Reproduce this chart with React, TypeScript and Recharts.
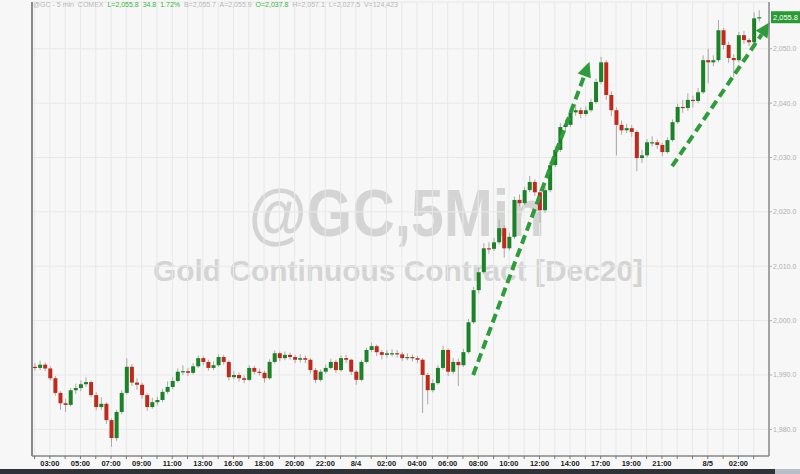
import React from "react";
import { ComposedChart, Bar, XAxis, YAxis, CartesianGrid, ReferenceLine } from "recharts";

const firstOpen = 1991.5;
const closes = [
	1991.3, 1991.9, 1991.2, 1989.4, 1986.7, 1984.8, 1984.5, 1987.2, 1987.6, 1988.3,
	1988.7, 1986.3, 1984.1, 1984.7, 1981.7, 1978.4, 1983.2, 1986.7, 1991.5, 1988.6,
	1988.2, 1986.3, 1984.1, 1985.0, 1985.4, 1986.9, 1987.8, 1988.9, 1990.6, 1990.7,
	1990.4, 1991.6, 1993.1, 1992.4, 1991.3, 1991.8, 1993.3, 1992.4, 1989.6, 1990.0,
	1989.4, 1989.1, 1991.3, 1990.6, 1990.4, 1989.4, 1992.4, 1994.0, 1993.1, 1993.7,
	1993.3, 1992.8, 1993.1, 1992.8, 1990.9, 1989.1, 1990.6, 1991.3, 1992.4, 1990.9,
	1993.1, 1992.8, 1990.6, 1989.1, 1992.4, 1994.6, 1995.3, 1994.2, 1993.7, 1994.0,
	1994.0, 1993.8, 1993.1, 1993.3, 1993.1, 1992.8, 1990.0, 1987.2, 1988.5, 1991.3,
	1994.6, 1990.6, 1992.4, 1991.8, 1994.2, 1999.7, 2005.6, 2008.9, 2013.3, 2013.2,
	2014.4, 2017.0, 2013.3, 2015.4, 2022.2, 2021.6, 2024.0, 2025.5, 2023.6, 2020.3,
	2024.0, 2028.6, 2031.4, 2035.6, 2036.0, 2038.3, 2038.7, 2038.0, 2038.7, 2040.2,
	2043.9, 2047.5, 2041.5, 2038.7, 2036.0, 2035.0, 2035.4, 2034.7, 2029.9, 2030.4,
	2032.8, 2032.8, 2032.3, 2031.0, 2033.2, 2036.5, 2039.3, 2039.1, 2040.6, 2040.4,
	2042.0, 2047.9, 2047.5, 2047.9, 2053.4, 2050.7, 2048.3, 2047.9, 2052.5, 2051.6,
	2051.2, 2055.6, 2055.8,
];
const highs = [
	1992.2, 1992.6, 1992.3, 1991.6, 1989.8, 1987.0, 1985.6, 1987.6, 1988.4, 1989.0,
	1989.6, 1989.0, 1986.8, 1985.9, 1985.0, 1982.0, 1983.6, 1987.2, 1993.1, 1992.0,
	1989.4, 1988.6, 1986.6, 1985.8, 1986.0, 1987.4, 1988.8, 1989.6, 1991.2, 1991.8,
	1991.3, 1992.2, 1993.6, 1993.5, 1992.8, 1992.5, 1993.8, 1993.7, 1992.7, 1990.7,
	1990.5, 1989.9, 1991.8, 1991.7, 1991.2, 1990.8, 1992.9, 1994.5, 1994.3, 1994.3,
	1994.1, 1993.7, 1993.8, 1993.6, 1993.1, 1991.3, 1991.0, 1991.9, 1993.0, 1992.8,
	1993.6, 1993.7, 1993.0, 1990.9, 1992.8, 1995.0, 1995.9, 1995.6, 1994.6, 1994.6,
	1994.7, 1994.6, 1994.2, 1994.0, 1993.8, 1993.5, 1993.1, 1990.4, 1989.2, 1991.8,
	1995.4, 1994.9, 1993.1, 1993.0, 1994.8, 2000.3, 2006.2, 2009.8, 2014.2, 2014.4,
	2015.2, 2018.6, 2017.5, 2016.2, 2022.8, 2023.2, 2024.6, 2026.6, 2026.0, 2024.0,
	2024.6, 2029.3, 2032.1, 2036.3, 2037.0, 2039.0, 2039.8, 2039.2, 2039.4, 2040.8,
	2044.5, 2048.5, 2047.9, 2042.2, 2039.2, 2036.8, 2036.2, 2036.0, 2035.0, 2031.4,
	2033.4, 2033.9, 2033.3, 2032.7, 2033.7, 2037.0, 2039.9, 2040.6, 2041.8, 2041.4,
	2042.8, 2048.8, 2050.0, 2048.8, 2055.3, 2053.8, 2051.3, 2049.0, 2053.1, 2053.3,
	2052.0, 2056.7, 2057.1,
];
const lows = [
	1990.8, 1990.9, 1990.7, 1989.0, 1986.2, 1983.6, 1983.2, 1984.2, 1986.5, 1987.0,
	1987.8, 1985.9, 1983.5, 1983.6, 1981.0, 1976.8, 1977.9, 1982.8, 1986.4, 1988.0,
	1987.3, 1985.6, 1983.4, 1983.8, 1984.4, 1985.0, 1986.5, 1987.4, 1988.6, 1990.0,
	1989.8, 1990.1, 1991.3, 1991.8, 1990.8, 1990.9, 1991.5, 1991.9, 1989.0, 1989.2,
	1988.8, 1988.5, 1988.9, 1990.1, 1989.9, 1988.6, 1989.1, 1992.1, 1992.5, 1992.7,
	1992.8, 1992.2, 1992.3, 1992.2, 1990.3, 1988.5, 1988.8, 1990.2, 1991.0, 1990.4,
	1990.6, 1992.2, 1990.0, 1988.2, 1988.8, 1992.1, 1994.2, 1993.5, 1992.9, 1993.2,
	1993.4, 1993.2, 1992.6, 1992.7, 1992.5, 1992.2, 1983.0, 1984.6, 1986.8, 1988.2,
	1991.0, 1989.8, 1990.2, 1988.0, 1991.5, 1993.9, 1999.4, 2005.0, 2008.5, 2012.3,
	2012.8, 2014.0, 2011.6, 2012.9, 2015.0, 2021.0, 2021.2, 2023.6, 2022.9, 2018.0,
	2019.8, 2023.6, 2028.2, 2031.0, 2034.8, 2035.6, 2037.7, 2037.2, 2037.6, 2038.4,
	2039.9, 2043.5, 2040.6, 2037.6, 2030.4, 2034.2, 2034.5, 2033.8, 2027.5, 2029.0,
	2030.0, 2032.0, 2031.6, 2030.2, 2030.7, 2032.9, 2036.2, 2038.2, 2038.6, 2039.2,
	2040.0, 2041.7, 2043.7, 2046.8, 2047.5, 2049.9, 2047.4, 2044.8, 2047.5, 2050.9,
	2050.5, 2050.9, 2055.0,
];

// x-axis labels (candle index -> text)
const tickIdx = [3, 9, 15, 21, 27, 33, 39, 45, 51, 57, 63, 69, 75, 81, 87, 93, 99, 105, 111, 117, 123, 132, 138];
const tickText = ["03:00", "05:00", "07:00", "09:00", "11:00", "13:00", "16:00", "18:00", "20:00", "22:00", "8/4", "02:00", "04:00", "06:00", "08:00", "10:00", "12:00", "14:00", "17:00", "19:00", "21:00", "8/5", "02:00"];
const hourTicks = Array.from({ length: 48 }, (_, k) => k * 3);
const priceTicks = [1980, 1990, 2000, 2010, 2020, 2030, 2040, 2050];

// the two drawn arrows: [tailIdx, tailPrice, tipIdx, tipPrice]
const arrowA = [86, 1990.0, 108.8, 2047.6];
const arrowB = [125, 2028.4, 144.2, 2054.9];

const data = closes.map((c, i) => ({
	i,
	open: i === 0 ? firstOpen : closes[i - 1],
	close: c,
	high: highs[i],
	low: lows[i],
	range: [lows[i], highs[i]],
}));

const GREEN = "#1c8228";
const RED = "#c02a1c";
const FONT = "Liberation Sans, Arial, sans-serif";

function Candle(props: any) {
	const { x, y, width, height, payload } = props;
	const { open, close, high, low } = payload;
	const top = Math.min(y, y + height);
	const h = Math.abs(height);
	const k = h / (high - low);
	const yOf = (v: number) => top + (high - v) * k;
	const up = close >= open;
	const bTop = yOf(Math.max(open, close));
	const bBot = yOf(Math.min(open, close));
	const cx = x + width / 2;
	return (
		<g>
			<line x1={cx} x2={cx} y1={top} y2={top + h} stroke="#a9a9a9" strokeWidth={1} />
			<rect x={x} y={bTop} width={width} height={Math.max(1.2, bBot - bTop)} fill={up ? GREEN : RED} />
		</g>
	);
}

function Arrow(props: any) {
	const { x1, y1, x2, y2 } = props;
	const dx = x2 - x1;
	const dy = y2 - y1;
	const len = Math.sqrt(dx * dx + dy * dy);
	const ux = dx / len;
	const uy = dy / len;
	const head = 15;
	const bx = x2 - ux * head;
	const by = y2 - uy * head;
	const px = -uy * 7;
	const py = ux * 7;
	return (
		<g>
			<line x1={x1} y1={y1} x2={bx} y2={by} stroke="#2e9c3a" strokeWidth={4} strokeDasharray="9 5" />
			<polygon points={`${x2},${y2} ${bx + px},${by + py} ${bx - px},${by - py}`} fill="#2e9c3a" />
		</g>
	);
}

function XTick(props: any) {
	const { x, y, payload } = props;
	const k = tickIdx.indexOf(payload.value);
	if (k < 0) return <g />;
	return (
		<text x={x} y={y + 6} textAnchor="middle" fontSize={7.5} fontWeight="bold" fill="#222" fontFamily={FONT}>
			{tickText[k]}
		</text>
	);
}

function PriceTag(props: any) {
	const vb = props.viewBox || {};
	const last = closes[closes.length - 1];
	const x = vb.x + vb.width + 2;
	const y = vb.y;
	return (
		<g>
			<rect x={x} y={y - 6} width={29} height={12} fill="#2a9a34" />
			<text x={x + 14.5} y={y + 3} textAnchor="middle" fontSize={7.5} fill="#fff" fontFamily={FONT}>
				{last.toLocaleString("en-US", { minimumFractionDigits: 1 })}
			</text>
		</g>
	);
}

export default function App() {
	return (
		<div style={{ position: "fixed", left: 0, top: 0, width: 800, height: 474, background: "#f7f7f7", overflow: "hidden" }}>
			<svg width={800} height={474} style={{ position: "absolute", left: 0, top: 0 }}>
				<text x={397} y={236} textAnchor="middle" fontSize={66} fontWeight="bold" fill="#d4d4d4" fontFamily={FONT} textLength={296} lengthAdjust="spacingAndGlyphs">
					@GC,5Min
				</text>
				<text x={398} y={281} textAnchor="middle" fontSize={29} fontWeight="bold" fill="#d4d4d4" fontFamily={FONT} textLength={490} lengthAdjust="spacingAndGlyphs">
					Gold Continuous Contract [Dec20]
				</text>
			</svg>
			<div style={{ position: "absolute", left: 0, top: 0 }}>
				<ComposedChart width={800} height={474} data={data} margin={{ top: 2, right: 0, bottom: 0, left: 32 }}>
					<CartesianGrid stroke="#e8e8e8" strokeWidth={1} />
					<XAxis
						dataKey="i"
						type="number"
						domain={[-0.5, 144]}
						allowDataOverflow
						ticks={hourTicks}
						interval={0}
						height={18}
						tick={<XTick />}
						tickSize={3}
						tickMargin={1}
						tickLine={{ stroke: "#777" }}
						axisLine={{ stroke: "#8a8a8a", strokeWidth: 1.5 }}
					/>
					<YAxis
						orientation="right"
						domain={[1975.1, 2058.6]}
						allowDataOverflow
						ticks={priceTicks}
						width={31}
						tickSize={3}
						tickMargin={1}
						tickLine={{ stroke: "#aaa" }}
						axisLine={{ stroke: "#8a8a8a", strokeWidth: 1.5 }}
						tick={{ fontSize: 7, fill: "#b0b0b0", fontFamily: FONT }}
						tickFormatter={(v: number) => v.toLocaleString("en-US", { minimumFractionDigits: 1 })}
					/>
					<ReferenceLine x={-0.5} stroke="#8a8a8a" strokeWidth={2} />
					<Bar dataKey="range" barSize={4} shape={<Candle />} isAnimationActive={false} />
					<ReferenceLine
						segment={[{ x: arrowA[0], y: arrowA[1] }, { x: arrowA[2], y: arrowA[3] }]}
						ifOverflow="visible"
						shape={<Arrow />}
					/>
					<ReferenceLine
						segment={[{ x: arrowB[0], y: arrowB[1] }, { x: arrowB[2], y: arrowB[3] }]}
						ifOverflow="visible"
						shape={<Arrow />}
					/>
					<ReferenceLine y={closes[closes.length - 1]} stroke="none" label={<PriceTag />} />
				</ComposedChart>
			</div>
			<div style={{ position: "absolute", left: 33, top: 1, fontSize: 7, fontFamily: FONT, color: "#b8b8b8", whiteSpace: "nowrap" }}>
				@GC - 5 min&nbsp; COMEX&nbsp; <span style={{ color: "#35b535" }}>L=2,055.8&nbsp; 34.8&nbsp; 1.72%</span>&nbsp; B=2,055.7&nbsp; A=2,055.9&nbsp;{" "}
				<span style={{ color: "#35b535" }}>O=2,037.8</span>&nbsp; H=2,057.1&nbsp; L=2,027.5&nbsp; V=124,423
			</div>
			<div style={{ position: "absolute", left: 0, top: 469, width: 775, height: 5, background: "#2f3338" }} />
			<div style={{ position: "absolute", left: 775, top: 469, width: 25, height: 5, background: "#b9bec6" }} />
		</div>
	);
}
